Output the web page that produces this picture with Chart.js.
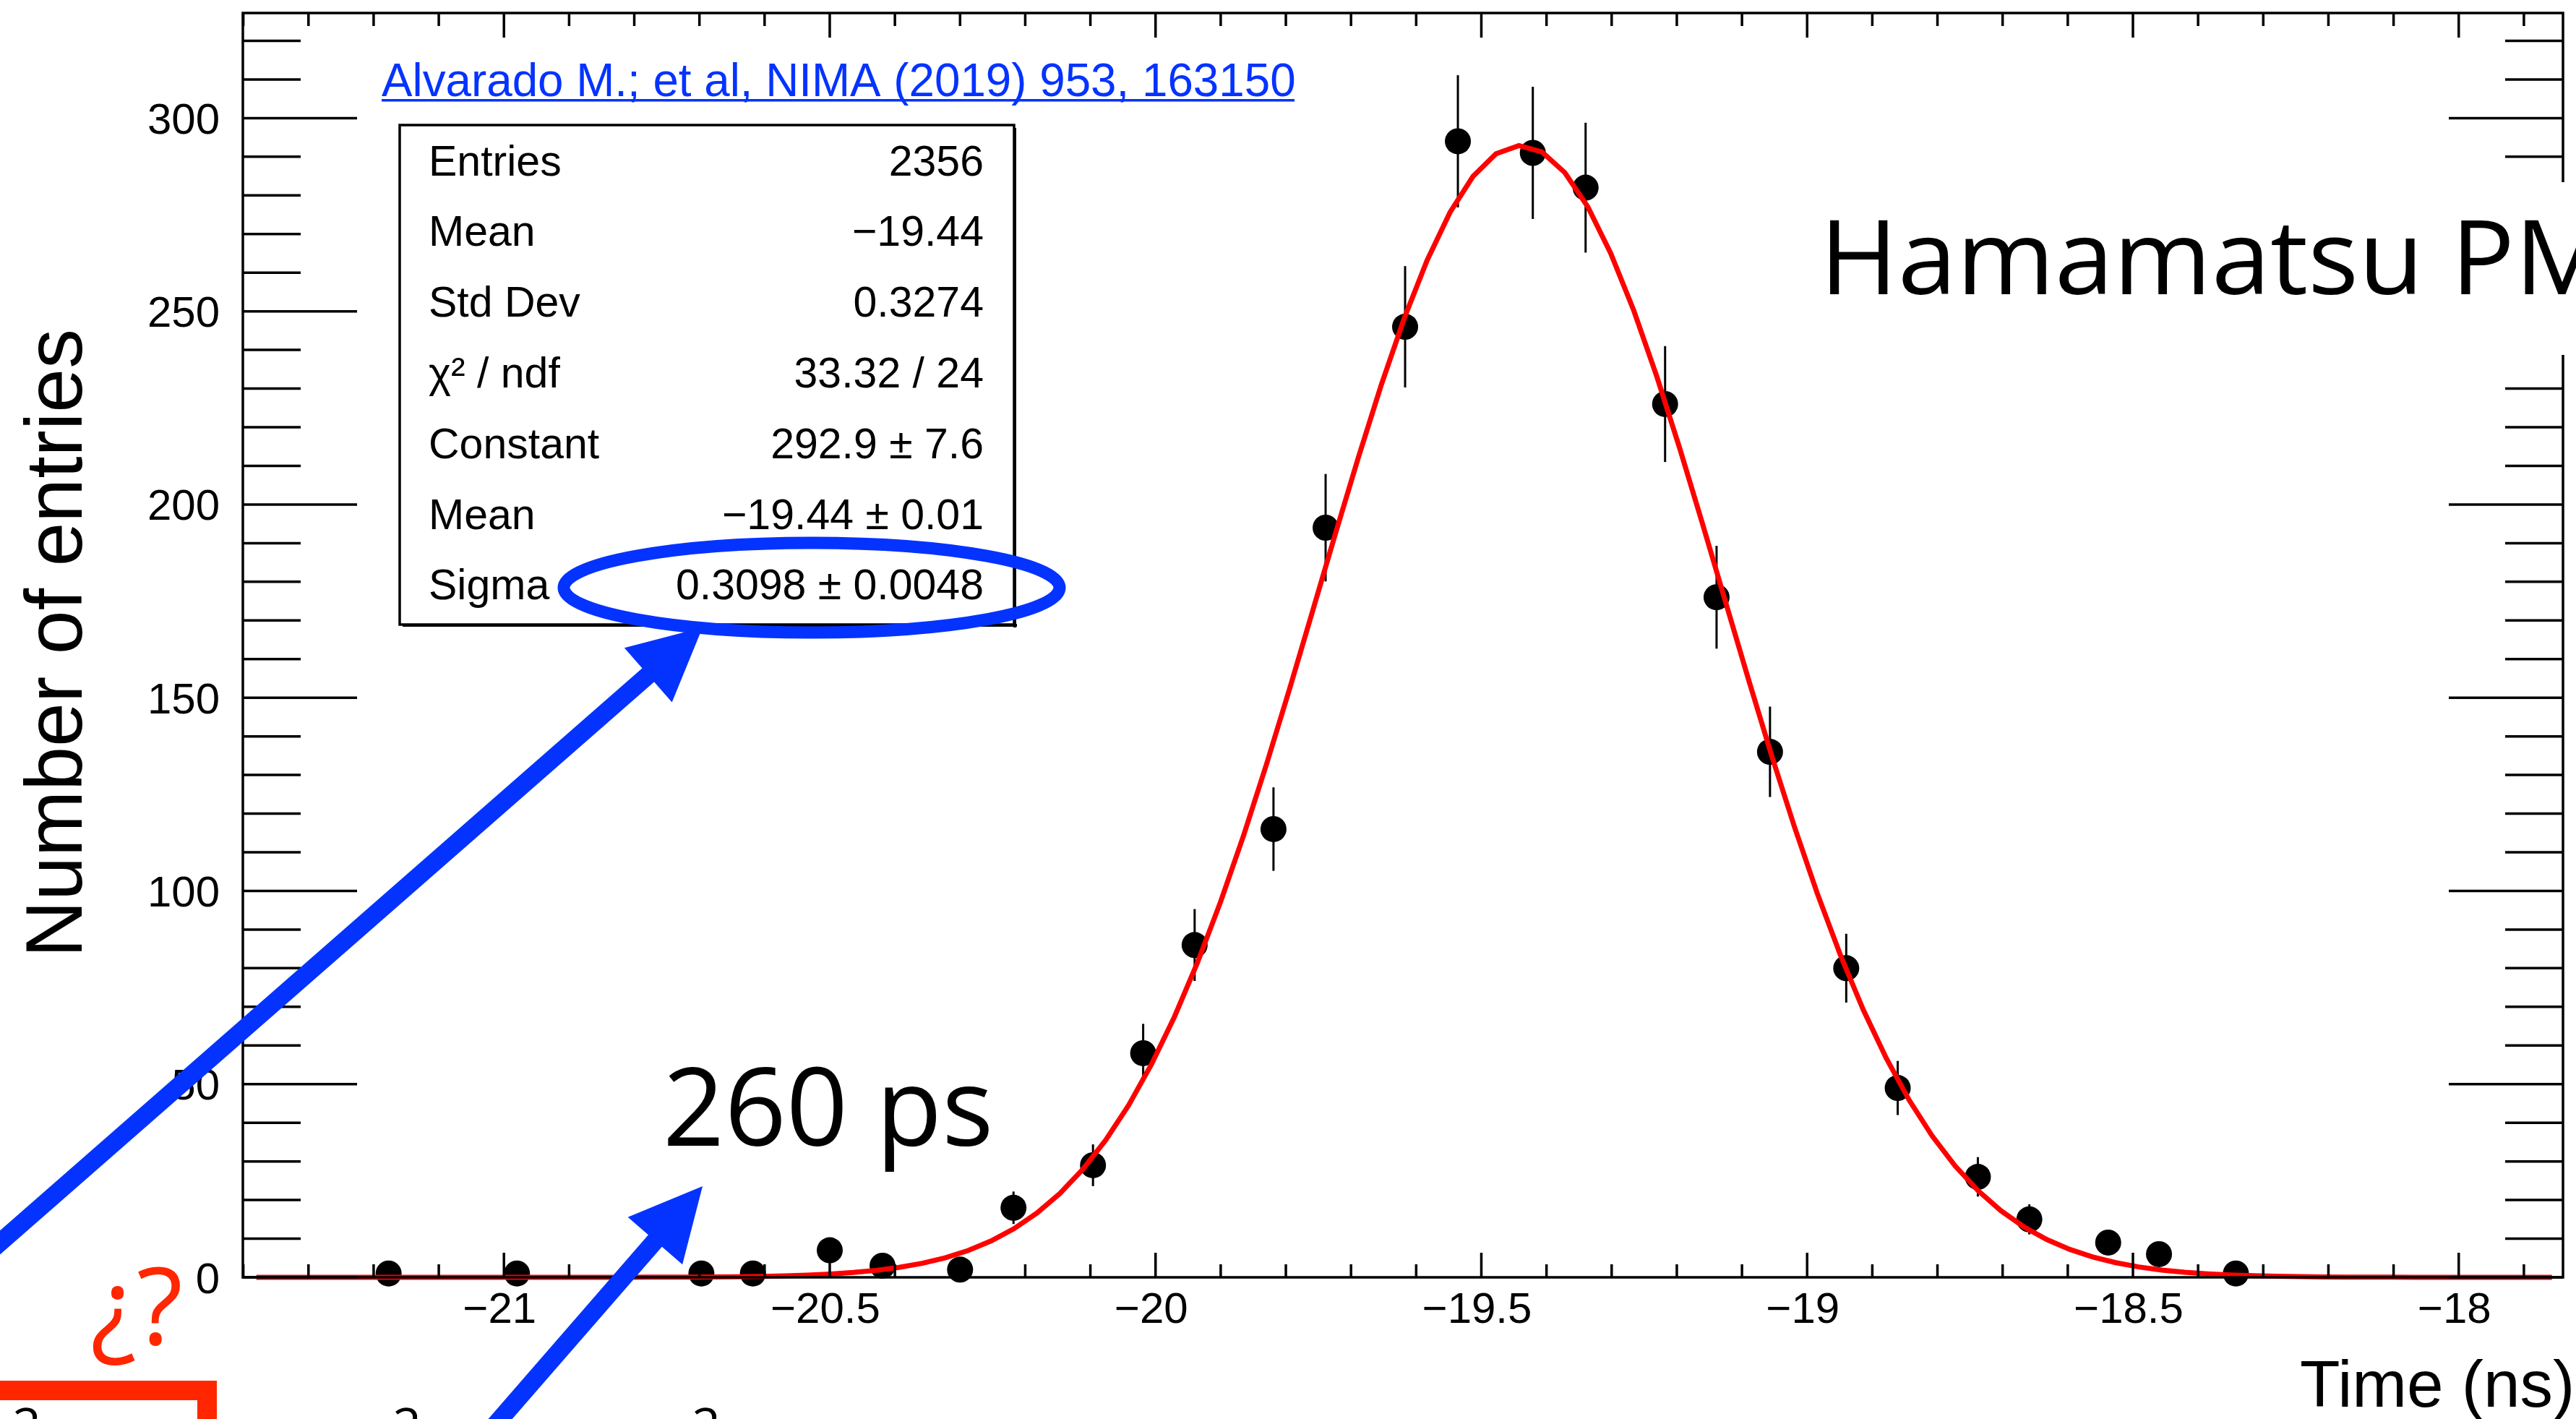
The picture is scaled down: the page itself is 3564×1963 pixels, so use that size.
<!DOCTYPE html>
<html>
<head>
<meta charset="utf-8">
<script src="https://cdn.jsdelivr.net/npm/chart.js@4.4.1/dist/chart.umd.min.js"></script>
<style>
  html, body { margin: 0; padding: 0; background: #ffffff; overflow: hidden; }
  canvas { display: block; }
</style>
</head>
<body>
<canvas id="c" width="3564" height="1963"></canvas>
<script>
// ---- Histogram: non-empty time bins (ns) and their entries ----
const binTimes = [-21.177, -20.980, -20.697, -20.618, -20.500, -20.419, -20.300, -20.218, -20.096,
                  -20.019, -19.940, -19.819, -19.739, -19.617, -19.536, -19.421, -19.340, -19.218,
                  -19.139, -19.057, -18.940, -18.861, -18.738, -18.659, -18.538, -18.460, -18.342];
const binCounts = [1, 1, 1, 1, 7, 3, 2, 18, 29,
                   58, 86, 116, 194, 246, 294, 291, 282, 226,
                   176, 136, 80, 49, 26, 15, 9, 6, 1];
const binErrors = [1, 1, 1, 1, 2.6, 1.7, 1.4, 4.2, 5.4,
                   7.6, 9.3, 10.8, 13.9, 15.7, 17.1, 17.1, 16.8, 15.0,
                   13.3, 11.7, 8.9, 7.0, 5.1, 3.9, 3.0, 2.4, 1];

// ---- Gaussian fit (parameters as printed in the stats box) ----
const fitConstant = 292.9;
const fitMean = -19.44;
const fitSigma = 0.3098;
const fitRange = [-21.38, -17.857];
const fitSteps = 100;

// ---- Stats box ----
const statLabels = ['Entries', 'Mean', 'Std Dev', 'χ² / ndf', 'Constant', 'Mean', 'Sigma'];
const statValues = ['2356', '−19.44', '0.3274', '33.32 / 24', '292.9 ± 7.6', '−19.44 ± 0.01', '0.3098 ± 0.0048'];

// ---- Axes ----
const xRange = [-21.4007, -17.840];
const yRange = [0, 327.2];
const xTickValues = [-21, -20.5, -20, -19.5, -19, -18.5, -18];
const xTickLabels = ['−21', '−20.5', '−20', '−19.5', '−19', '−18.5', '−18'];
const yTickValues = [0, 50, 100, 150, 200, 250, 300];
const yTickLabels = ['0', '50', '100', '150', '200', '250', '300'];
const xMinorStep = 0.1;
const yMinorStep = 10;
const xTitle = 'Time (ns)';
const yTitle = 'Number of entries';

// ---- Slide annotations ----
const referenceText = 'Alvarado M.; et al, NIMA (2019) 953, 163150';
const detectorText = 'Hamamatsu PMT';
const resolutionText = '260 ps';
const unknownText = '¿?';

// Build the point table and the fit polyline for Chart.js
const histPoints = binTimes.map((t, i) => ({ x: t, y: binCounts[i] }));
const fitPoints = [];
for (let i = 0; i <= fitSteps; i++) {
  const x = fitRange[0] + (fitRange[1] - fitRange[0]) * i / fitSteps;
  const z = (x - fitMean) / fitSigma;
  fitPoints.push({ x: x, y: fitConstant * Math.exp(-0.5 * z * z) });
}

const BLUE = '#0433ff';
const RED_MARK = '#ff2600';
const ROOT_FONT = '"Liberation Sans", Arial, Helvetica, sans-serif';
const SLIDE_FONT = '"Open Sans", "Noto Sans", sans-serif';

// Draw text so that its ink spans exactly [x, x+width] horizontally
function drawInkFitted(ctx, text, x, y, font, color, width, refText) {
  ctx.save();
  ctx.font = font;
  ctx.textAlign = 'left';
  ctx.textBaseline = 'alphabetic';
  const m = ctx.measureText(refText || text);
  const ink = m.actualBoundingBoxLeft + m.actualBoundingBoxRight;
  const s = width / ink;
  ctx.translate(x, y);
  ctx.scale(s, 1);
  ctx.fillStyle = color;
  ctx.fillText(text, m.actualBoundingBoxLeft, 0);
  ctx.restore();
}

// Error bars under the markers
const errorBars = {
  id: 'errorBars',
  beforeDatasetsDraw(chart) {
    const { ctx, scales } = chart;
    ctx.save();
    ctx.strokeStyle = '#000';
    ctx.lineWidth = 3;
    binTimes.forEach((t, i) => {
      const px = scales.x.getPixelForValue(t);
      const y0 = scales.y.getPixelForValue(binCounts[i] - binErrors[i]);
      const y1 = scales.y.getPixelForValue(binCounts[i] + binErrors[i]);
      ctx.beginPath();
      ctx.moveTo(px, y0);
      ctx.lineTo(px, y1);
      ctx.stroke();
    });
    ctx.restore();
  }
};

// ROOT-style frame with inward ticks on all four sides
const rootFrame = {
  id: 'rootFrame',
  afterDatasetsDraw(chart) {
    const { ctx, chartArea: a, scales } = chart;
    const xs = scales.x, ys = scales.y;
    ctx.save();
    ctx.strokeStyle = '#000';
    ctx.lineWidth = 3.5;
    ctx.strokeRect(a.left, a.top, a.right - a.left, a.bottom - a.top);

    ctx.beginPath();
    // x ticks
    const nx0 = Math.ceil(xRange[0] / xMinorStep - 1e-6);
    const nx1 = Math.floor(xRange[1] / xMinorStep + 1e-6);
    for (let n = nx0; n <= nx1; n++) {
      const v = n * xMinorStep;
      const major = Math.abs(n % 5) === 0;
      const len = major ? 34 : 18;
      const px = xs.getPixelForValue(v);
      ctx.moveTo(px, a.bottom); ctx.lineTo(px, a.bottom - len);
      ctx.moveTo(px, a.top); ctx.lineTo(px, a.top + len);
    }
    // y ticks
    for (let v = 0; v <= yRange[1]; v += yMinorStep) {
      const major = v % 50 === 0;
      const len = major ? 158 : 80;
      const py = ys.getPixelForValue(v);
      ctx.moveTo(a.left, py); ctx.lineTo(a.left + len, py);
      ctx.moveTo(a.right, py); ctx.lineTo(a.right - len, py);
    }
    ctx.stroke();

    // tick labels
    ctx.fillStyle = '#000';
    ctx.font = '60px ' + ROOT_FONT;
    ctx.textAlign = 'center';
    ctx.textBaseline = 'alphabetic';
    xTickValues.forEach((v, i) => {
      ctx.fillText(xTickLabels[i], xs.getPixelForValue(v) - 6, a.bottom + 63);
    });
    ctx.textAlign = 'right';
    yTickValues.forEach((v, i) => {
      ctx.fillText(yTickLabels[i], a.left - 32, ys.getPixelForValue(v) + 21.5);
    });

    // axis titles
    drawInkFitted(ctx, xTitle, 3184, 1946, '91px ' + ROOT_FONT, '#000', 373);
    ctx.save();
    ctx.translate(113, 1316);
    ctx.rotate(-Math.PI / 2);
    drawInkFitted(ctx, yTitle, 0, 0, '112px ' + ROOT_FONT, '#000', 857);
    ctx.restore();
    ctx.restore();
  }
};

function drawArrow(ctx, x0, y0, x1, y1, shaft, headLen, headHalf, color) {
  const dx = x1 - x0, dy = y1 - y0;
  const L = Math.hypot(dx, dy);
  const ux = dx / L, uy = dy / L;
  const bx = x1 - ux * headLen, by = y1 - uy * headLen;
  ctx.save();
  ctx.strokeStyle = color;
  ctx.fillStyle = color;
  ctx.lineWidth = shaft;
  ctx.lineCap = 'butt';
  ctx.beginPath();
  ctx.moveTo(x0, y0);
  ctx.lineTo(bx + ux * 4, by + uy * 4);
  ctx.stroke();
  ctx.beginPath();
  ctx.moveTo(x1, y1);
  ctx.lineTo(bx - uy * headHalf, by + ux * headHalf);
  ctx.lineTo(bx + uy * headHalf, by - ux * headHalf);
  ctx.closePath();
  ctx.fill();
  ctx.restore();
}

// Stats box, reference link and slide annotations
const annotations = {
  id: 'annotations',
  afterDraw(chart) {
    const { ctx } = chart;
    ctx.save();

    // reference link
    drawInkFitted(ctx, referenceText, 528, 133, '64px ' + ROOT_FONT, BLUE, 1263);
    ctx.fillStyle = BLUE;
    ctx.fillRect(528, 137, 1263, 3.5);

    // stats box with shadow
    const bx0 = 553, by0 = 173, bx1 = 1403, by1 = 864;
    ctx.fillStyle = '#fff';
    ctx.fillRect(bx0, by0, bx1 - bx0, by1 - by0);
    ctx.fillStyle = '#000';
    ctx.fillRect(bx0 + 4, by1 - 1, bx1 - bx0, 4);
    ctx.fillRect(bx1 - 1, by0 + 4, 4, by1 - by0);
    ctx.strokeStyle = '#000';
    ctx.lineWidth = 3.5;
    ctx.strokeRect(bx0, by0, bx1 - bx0, by1 - by0);
    ctx.font = '59px ' + ROOT_FONT;
    ctx.textBaseline = 'alphabetic';
    statLabels.forEach((lab, i) => {
      const yb = 242.5 + i * 97.8;
      ctx.textAlign = 'left';
      ctx.fillText(lab, 593, yb);
      ctx.textAlign = 'right';
      ctx.fillText(statValues[i], 1361, yb);
    });

    // detector label on a white patch
    ctx.fillStyle = '#fff';
    ctx.fillRect(2480, 252, 1084, 239);
    drawInkFitted(ctx, detectorText, 2531, 407, '143px ' + SLIDE_FONT, '#000', 810, 'Hamamatsu');

    // resolution label
    drawInkFitted(ctx, resolutionText, 924, 1585, '150px ' + SLIDE_FONT, '#000', 444);

    // question mark label and box
    drawInkFitted(ctx, unknownText, 128, 1860, '148px ' + SLIDE_FONT, RED_MARK, 121);
    ctx.strokeStyle = RED_MARK;
    ctx.lineWidth = 27;
    ctx.strokeRect(-100, 1923.5, 386.5, 200);

    // fragments of the formula line below
    ctx.fillStyle = '#000';
    ctx.font = '70px ' + SLIDE_FONT;
    ctx.textAlign = 'center';
    ctx.textBaseline = 'alphabetic';
    [37, 563, 977].forEach(x => ctx.fillText('2', x, 1998));

    // ellipse around sigma
    ctx.strokeStyle = BLUE;
    ctx.lineWidth = 17;
    ctx.beginPath();
    ctx.ellipse(1123, 813, 343, 62, 0, 0, Math.PI * 2);
    ctx.stroke();

    // arrows
    drawArrow(ctx, -200, 1894, 972, 868, 25, 100, 50, BLUE);
    drawArrow(ctx, 626, 2039, 972, 1641, 25, 100, 50, BLUE);

    ctx.restore();
  }
};

const chart = new Chart(document.getElementById('c'), {
  type: 'scatter',
  data: {
    datasets: [
      {
        label: 'gaus',
        type: 'line',
        data: fitPoints,
        borderColor: '#ff0000',
        borderWidth: 7,
        pointRadius: 0,
        tension: 0,
        fill: false,
        clip: false,
        order: 0
      },
      {
        label: 'Entries',
        data: histPoints,
        pointStyle: 'circle',
        pointRadius: 18,
        pointBackgroundColor: '#000',
        pointBorderWidth: 0,
        showLine: false,
        clip: false,
        order: 1
      }
    ]
  },
  options: {
    responsive: false,
    devicePixelRatio: 1,
    animation: false,
    events: [],
    layout: { padding: { left: 336, right: 2, top: 13, bottom: 196 } },
    plugins: { legend: { display: false }, tooltip: { enabled: false } },
    scales: {
      x: { type: 'linear', display: false, min: xRange[0], max: xRange[1] },
      y: { type: 'linear', display: false, min: yRange[0], max: yRange[1] }
    }
  },
  plugins: [errorBars, rootFrame, annotations]
});
</script>
</body>
</html>
